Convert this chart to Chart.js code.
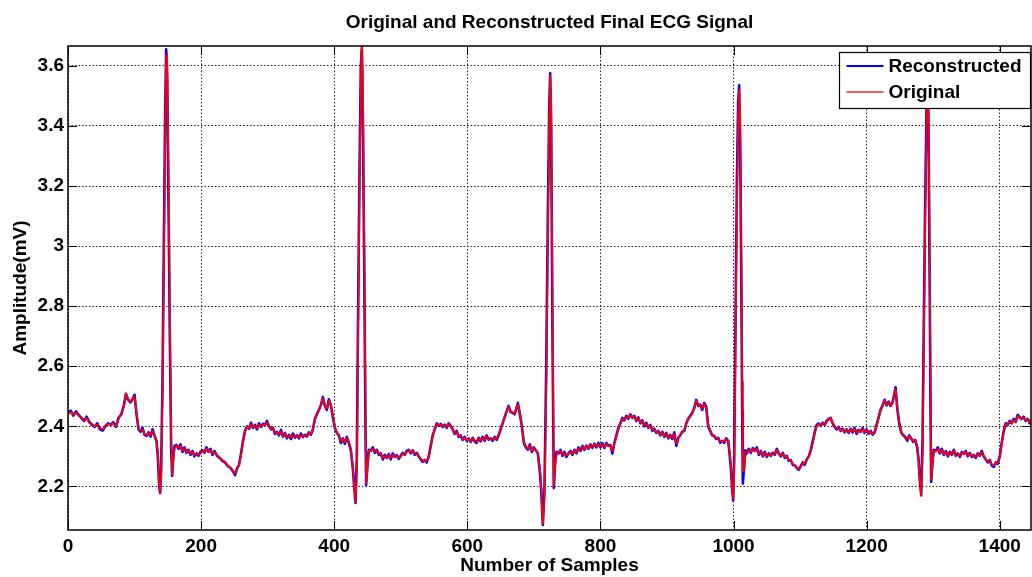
<!DOCTYPE html>
<html>
<head>
<meta charset="utf-8">
<script src="https://cdn.jsdelivr.net/npm/chart.js@4"></script>
<style>
  html, body { margin: 0; padding: 0; background: #fff; }
</style>
</head>
<body>
<canvas id="chart" width="1032" height="577"></canvas>
<script>
// sample index of each stored point (denser around the QRS spikes)
const samples = [
  0, 4, 8, 12, 16, 20, 24, 28, 32, 36,
  40, 44, 48, 52, 56, 60, 64, 68, 72, 76,
  80, 84, 87, 90, 94, 97, 100, 103, 106, 109,
  112, 115, 118, 121, 124, 127, 130, 133, 135, 137,
  138.5, 140, 142, 144, 146, 147.5, 149, 151, 153, 155,
  156.5, 158, 160, 163, 166, 169, 172, 175, 178, 181,
  184, 187, 190, 193, 196, 199, 202, 205, 208, 211,
  214, 217, 220, 224, 228, 232, 236, 240, 244, 248,
  251, 254, 257, 260, 263, 266, 269, 272, 275, 278,
  281, 284, 287, 290, 293, 296, 299, 302, 305, 308,
  311, 314, 317, 320, 323, 326, 329, 332, 335, 338,
  341, 344, 347, 350, 353, 356, 359, 362, 365, 368,
  371, 374, 377, 380, 383, 386, 389, 392, 395, 398,
  401, 404, 407, 410, 413, 416, 419, 422, 425, 428,
  430, 432, 434, 436, 438, 440, 441.5, 443, 445, 447,
  448, 450, 452, 455, 458, 461, 464, 467, 470, 473,
  476, 479, 482, 485, 488, 491, 494, 497, 500, 503,
  506, 509, 512, 515, 518, 521, 524, 527, 530, 533,
  536, 539, 542, 545, 548, 551, 554, 557, 560, 563,
  566, 569, 572, 575, 578, 581, 584, 587, 590, 593,
  596, 599, 602, 605, 608, 611, 614, 617, 620, 623,
  626, 629, 632, 635, 638, 641, 644, 647, 650, 653,
  656, 659, 662, 665, 668, 671, 674, 676, 679, 682,
  685, 688, 691, 694, 697, 700, 703, 706, 709, 711,
  713.5, 716, 718.5, 721, 723, 724.5, 726, 728, 730, 732,
  734, 737, 740, 743, 746, 749, 752, 755, 758, 761,
  764, 767, 770, 773, 776, 779, 782, 785, 788, 791,
  794, 797, 800, 803, 806, 809, 812, 815, 818, 821,
  824, 827, 830, 833, 836, 839, 842, 845, 848, 851,
  854, 857, 860, 863, 866, 869, 872, 875, 878, 881,
  884, 887, 890, 893, 896, 899, 902, 905, 908, 911,
  914, 917, 920, 923, 926, 929, 932, 935, 938, 941,
  944, 947, 950, 953, 956, 959, 962, 965, 968, 971,
  974, 977, 980, 983, 986, 989, 992, 994, 996, 998,
  999.5, 1001, 1003, 1005, 1007, 1008.5, 1010, 1012, 1013, 1014,
  1016, 1018, 1020, 1023, 1026, 1029, 1032, 1035, 1038, 1041,
  1044, 1047, 1050, 1053, 1056, 1059, 1062, 1065, 1068, 1071,
  1074, 1077, 1080, 1083, 1086, 1089, 1092, 1095, 1098, 1101,
  1104, 1107, 1110, 1113, 1116, 1119, 1122, 1125, 1128, 1131,
  1134, 1137, 1140, 1143, 1146, 1149, 1152, 1155, 1158, 1161,
  1164, 1167, 1170, 1173, 1176, 1179, 1182, 1185, 1188, 1191,
  1194, 1197, 1200, 1203, 1206, 1209, 1212, 1215, 1218, 1221,
  1224, 1227, 1230, 1233, 1236, 1239, 1242, 1243.5, 1246, 1249,
  1252, 1255, 1258, 1261, 1264, 1267, 1270, 1273, 1276, 1278,
  1280, 1282, 1284, 1286, 1288, 1290, 1291.5, 1293, 1295, 1296,
  1297, 1299, 1301, 1304, 1307, 1310, 1313, 1316, 1319, 1322,
  1325, 1328, 1331, 1334, 1337, 1340, 1343, 1346, 1349, 1352,
  1355, 1358, 1361, 1364, 1367, 1370, 1373, 1376, 1379, 1382,
  1385, 1388, 1391, 1394, 1397, 1400, 1403, 1406, 1409, 1412,
  1415, 1418, 1421, 1424, 1427, 1430, 1433, 1436, 1439, 1442,
  1445, 1447
];

// reconstructed signal, mV
const reconstructed = [
  2.445, 2.452, 2.436, 2.45, 2.438, 2.428, 2.418, 2.432, 2.415, 2.405,
  2.398, 2.41, 2.39, 2.386, 2.4, 2.41, 2.405, 2.414, 2.398, 2.428,
  2.44, 2.47, 2.508, 2.49, 2.48, 2.49, 2.505, 2.44, 2.39, 2.382,
  2.395, 2.372, 2.368, 2.38, 2.366, 2.39, 2.37, 2.35, 2.3, 2.2,
  2.178, 2.26, 2.55, 3.0, 3.45, 3.655, 3.56, 3.15, 2.7, 2.33,
  2.236, 2.29, 2.335, 2.338, 2.325, 2.34, 2.315, 2.33, 2.312, 2.322,
  2.305, 2.318, 2.3, 2.31, 2.302, 2.315, 2.32, 2.312, 2.33, 2.315,
  2.325, 2.305, 2.318, 2.302, 2.295, 2.285, 2.28, 2.268, 2.262, 2.25,
  2.238, 2.26, 2.272, 2.31, 2.352, 2.385, 2.4, 2.392, 2.412, 2.395,
  2.405, 2.39, 2.41, 2.398, 2.408, 2.405, 2.418, 2.4, 2.39, 2.395,
  2.375, 2.382, 2.37, 2.388, 2.366, 2.378, 2.36, 2.372, 2.358, 2.376,
  2.362, 2.37, 2.36, 2.376, 2.364, 2.372, 2.366, 2.38, 2.372, 2.39,
  2.425, 2.44, 2.455, 2.47, 2.498, 2.468, 2.455, 2.49, 2.47, 2.43,
  2.395, 2.378, 2.37, 2.345, 2.36, 2.342, 2.365, 2.345, 2.32, 2.26,
  2.2, 2.145, 2.3, 2.8, 3.25, 3.6, 3.655, 3.45, 2.95, 2.4,
  2.205, 2.27, 2.322, 2.318, 2.33, 2.312, 2.322, 2.305, 2.31, 2.29,
  2.305, 2.295, 2.308, 2.29, 2.31, 2.298, 2.304, 2.292, 2.302, 2.312,
  2.305, 2.318, 2.322, 2.31, 2.32, 2.305, 2.312, 2.3, 2.29, 2.282,
  2.288, 2.28, 2.3, 2.335, 2.37, 2.39, 2.41, 2.402, 2.408, 2.398,
  2.406, 2.395, 2.41, 2.402, 2.39, 2.375, 2.385, 2.365, 2.37, 2.355,
  2.365, 2.352, 2.36, 2.348, 2.362, 2.35, 2.345, 2.362, 2.35, 2.365,
  2.352, 2.37, 2.356, 2.36, 2.352, 2.365, 2.355, 2.37, 2.39, 2.41,
  2.43, 2.45, 2.468, 2.448, 2.445, 2.44, 2.462, 2.478, 2.44, 2.4,
  2.345, 2.33, 2.322, 2.34, 2.315, 2.33, 2.32, 2.31, 2.25, 2.19,
  2.072, 2.2, 2.58, 3.1, 3.45, 3.575, 3.4, 2.7, 2.195, 2.28,
  2.315, 2.31, 2.322, 2.302, 2.315, 2.298, 2.31, 2.318, 2.305, 2.322,
  2.31, 2.33, 2.318, 2.335, 2.322, 2.336, 2.325, 2.34, 2.328, 2.342,
  2.33, 2.345, 2.33, 2.344, 2.328, 2.345, 2.335, 2.338, 2.31, 2.345,
  2.37, 2.395, 2.41, 2.428, 2.42, 2.435, 2.425, 2.44, 2.428, 2.435,
  2.418, 2.43, 2.41, 2.42, 2.4, 2.412, 2.395, 2.405, 2.385, 2.392,
  2.378, 2.385, 2.37, 2.382, 2.365, 2.378, 2.36, 2.372, 2.358, 2.38,
  2.335, 2.362, 2.37, 2.382, 2.385, 2.41, 2.425, 2.435, 2.445, 2.46,
  2.488, 2.468, 2.472, 2.455, 2.478, 2.465, 2.4, 2.385, 2.37, 2.368,
  2.358, 2.362, 2.345, 2.352, 2.345, 2.36, 2.352, 2.31, 2.26, 2.19,
  2.154, 2.3, 2.75, 3.2, 3.48, 3.535, 3.35, 2.8, 2.45, 2.21,
  2.265, 2.32, 2.31, 2.325, 2.312, 2.328, 2.318, 2.33, 2.305, 2.318,
  2.3, 2.315, 2.298, 2.31, 2.302, 2.312, 2.305, 2.325, 2.31, 2.3,
  2.312, 2.295, 2.302, 2.285, 2.288, 2.272, 2.27, 2.262, 2.255, 2.268,
  2.28, 2.272, 2.29, 2.3, 2.32, 2.35, 2.38, 2.405, 2.41, 2.402,
  2.412, 2.405, 2.418, 2.425, 2.428, 2.41, 2.398, 2.39, 2.398, 2.385,
  2.392, 2.38, 2.39, 2.378, 2.392, 2.38, 2.395, 2.375, 2.388, 2.382,
  2.395, 2.378, 2.39, 2.375, 2.385, 2.372, 2.38, 2.405, 2.43, 2.455,
  2.47, 2.488, 2.47, 2.482, 2.468, 2.48, 2.512, 2.53, 2.46, 2.41,
  2.38, 2.37, 2.365, 2.352, 2.37, 2.36, 2.348, 2.355, 2.33, 2.29,
  2.22, 2.172, 2.35, 2.75, 3.15, 3.45, 3.55, 3.4, 2.8, 2.45,
  2.215, 2.28, 2.322, 2.318, 2.33, 2.31, 2.325, 2.305, 2.318, 2.3,
  2.315, 2.305, 2.322, 2.302, 2.31, 2.298, 2.315, 2.308, 2.318, 2.3,
  2.312, 2.298, 2.305, 2.295, 2.31, 2.302, 2.318, 2.3, 2.29, 2.28,
  2.288, 2.27, 2.265, 2.28, 2.275, 2.3, 2.345, 2.385, 2.41, 2.405,
  2.418, 2.41, 2.425, 2.415, 2.438, 2.43, 2.425, 2.432, 2.418, 2.425,
  2.41, 2.42
];

// original signal, mV
const original = [
  2.442, 2.448, 2.438, 2.446, 2.436, 2.43, 2.42, 2.428, 2.412, 2.408,
  2.4, 2.406, 2.394, 2.39, 2.402, 2.408, 2.406, 2.41, 2.4, 2.425,
  2.442, 2.468, 2.51, 2.492, 2.482, 2.488, 2.5, 2.445, 2.392, 2.385,
  2.39, 2.375, 2.37, 2.378, 2.37, 2.385, 2.372, 2.352, 2.31, 2.21,
  2.178, 2.24, 2.5, 2.92, 3.38, 3.63, 3.64, 3.25, 2.78, 2.36,
  2.24, 2.285, 2.33, 2.335, 2.328, 2.336, 2.318, 2.328, 2.315, 2.32,
  2.308, 2.315, 2.304, 2.31, 2.305, 2.312, 2.318, 2.314, 2.326, 2.316,
  2.322, 2.308, 2.315, 2.305, 2.296, 2.288, 2.28, 2.27, 2.262, 2.252,
  2.242, 2.258, 2.272, 2.305, 2.348, 2.382, 2.398, 2.394, 2.408, 2.398,
  2.402, 2.394, 2.406, 2.4, 2.405, 2.404, 2.414, 2.402, 2.392, 2.393,
  2.378, 2.38, 2.372, 2.384, 2.368, 2.376, 2.364, 2.37, 2.362, 2.372,
  2.364, 2.368, 2.362, 2.372, 2.366, 2.37, 2.368, 2.378, 2.374, 2.392,
  2.422, 2.44, 2.452, 2.472, 2.495, 2.47, 2.458, 2.486, 2.472, 2.435,
  2.398, 2.38, 2.372, 2.35, 2.358, 2.346, 2.362, 2.348, 2.325, 2.265,
  2.205, 2.148, 2.25, 2.72, 3.18, 3.55, 3.70, 3.55, 3.05, 2.48,
  2.21, 2.265, 2.318, 2.318, 2.326, 2.315, 2.32, 2.308, 2.308, 2.294,
  2.302, 2.298, 2.305, 2.294, 2.306, 2.3, 2.302, 2.295, 2.3, 2.31,
  2.306, 2.315, 2.32, 2.312, 2.318, 2.308, 2.31, 2.302, 2.292, 2.285,
  2.288, 2.284, 2.298, 2.33, 2.368, 2.392, 2.408, 2.404, 2.406, 2.4,
  2.404, 2.398, 2.408, 2.4, 2.392, 2.378, 2.382, 2.368, 2.368, 2.358,
  2.362, 2.355, 2.358, 2.35, 2.36, 2.352, 2.348, 2.36, 2.352, 2.362,
  2.355, 2.368, 2.358, 2.358, 2.355, 2.362, 2.358, 2.368, 2.392, 2.408,
  2.428, 2.448, 2.465, 2.45, 2.446, 2.442, 2.46, 2.475, 2.445, 2.402,
  2.35, 2.332, 2.325, 2.336, 2.318, 2.328, 2.32, 2.31, 2.26, 2.2,
  2.075, 2.16, 2.5, 3.02, 3.4, 3.57, 3.48, 2.8, 2.2, 2.27,
  2.312, 2.312, 2.32, 2.305, 2.312, 2.302, 2.31, 2.315, 2.308, 2.32,
  2.312, 2.326, 2.32, 2.332, 2.324, 2.334, 2.326, 2.338, 2.33, 2.34,
  2.332, 2.342, 2.332, 2.34, 2.33, 2.342, 2.336, 2.336, 2.318, 2.342,
  2.368, 2.39, 2.41, 2.425, 2.422, 2.432, 2.428, 2.438, 2.43, 2.432,
  2.42, 2.428, 2.412, 2.418, 2.402, 2.41, 2.398, 2.402, 2.388, 2.39,
  2.38, 2.384, 2.372, 2.38, 2.368, 2.376, 2.362, 2.37, 2.362, 2.376,
  2.342, 2.36, 2.372, 2.38, 2.388, 2.408, 2.425, 2.432, 2.445, 2.462,
  2.485, 2.47, 2.47, 2.458, 2.475, 2.462, 2.405, 2.385, 2.372, 2.366,
  2.36, 2.36, 2.348, 2.35, 2.348, 2.358, 2.35, 2.315, 2.27, 2.2,
  2.158, 2.24, 2.66, 3.1, 3.42, 3.52, 3.42, 2.9, 2.55, 2.25,
  2.255, 2.315, 2.312, 2.322, 2.315, 2.325, 2.318, 2.326, 2.308, 2.315,
  2.302, 2.312, 2.3, 2.308, 2.304, 2.31, 2.306, 2.322, 2.31, 2.302,
  2.31, 2.298, 2.3, 2.288, 2.286, 2.275, 2.27, 2.264, 2.258, 2.265,
  2.278, 2.275, 2.288, 2.3, 2.318, 2.345, 2.378, 2.402, 2.408, 2.404,
  2.41, 2.406, 2.415, 2.422, 2.428, 2.412, 2.4, 2.392, 2.396, 2.386,
  2.39, 2.382, 2.388, 2.38, 2.39, 2.382, 2.392, 2.378, 2.386, 2.382,
  2.392, 2.38, 2.388, 2.378, 2.384, 2.374, 2.382, 2.402, 2.428, 2.452,
  2.468, 2.485, 2.472, 2.48, 2.47, 2.478, 2.508, 2.525, 2.465, 2.415,
  2.382, 2.372, 2.366, 2.356, 2.368, 2.36, 2.35, 2.354, 2.332, 2.295,
  2.225, 2.168, 2.3, 2.68, 3.08, 3.4, 3.53, 3.45, 2.9, 2.55,
  2.222, 2.275, 2.32, 2.316, 2.326, 2.312, 2.322, 2.308, 2.316, 2.302,
  2.312, 2.306, 2.32, 2.305, 2.31, 2.3, 2.312, 2.308, 2.315, 2.302,
  2.31, 2.3, 2.304, 2.298, 2.308, 2.304, 2.315, 2.302, 2.292, 2.282,
  2.286, 2.274, 2.27, 2.278, 2.278, 2.298, 2.34, 2.38, 2.408, 2.405,
  2.415, 2.41, 2.422, 2.416, 2.434, 2.43, 2.426, 2.43, 2.42, 2.424,
  2.412, 2.418
];

const xTicks = [0, 200, 400, 600, 800, 1000, 1200, 1400];
const yTicks = [2.2, 2.4, 2.6, 2.8, 3, 3.2, 3.4, 3.6];

const FONT = 'Liberation Sans, Arial, Helvetica, sans-serif';
Chart.defaults.font.family = FONT;
Chart.defaults.color = '#000';

const toPoints = vals => samples.map((s, i) => ({ x: s, y: vals[i] }));

// box, inward tick marks and the legend, drawn over the plot
const axesBox = {
  id: 'axesBox',
  afterDraw(chart) {
    const { ctx, chartArea: a, scales: { x, y } } = chart;
    ctx.save();
    ctx.strokeStyle = '#000';
    ctx.lineWidth = 1;
    ctx.beginPath();
    x.ticks.forEach(t => {
      const px = Math.round(x.getPixelForValue(t.value)) + 0.5;
      ctx.moveTo(px, a.bottom); ctx.lineTo(px, a.bottom - 9);
      ctx.moveTo(px, a.top); ctx.lineTo(px, a.top + 9);
    });
    y.ticks.forEach(t => {
      const py = Math.round(y.getPixelForValue(t.value)) + 0.5;
      ctx.moveTo(a.left, py); ctx.lineTo(a.left + 9, py);
      ctx.moveTo(a.right, py); ctx.lineTo(a.right - 9, py);
    });
    ctx.stroke();
    ctx.lineWidth = 1.5;
    ctx.strokeRect(a.left, a.top, a.right - a.left, a.bottom - a.top);

    // legend
    const lx = 839.5, ly = 52.5, lw = 191, lh = 56;
    ctx.fillStyle = '#fff';
    ctx.fillRect(lx, ly, lw, lh);
    ctx.lineWidth = 1.2;
    ctx.strokeRect(lx, ly, lw, lh);
    ctx.font = 'bold 19px ' + FONT;
    ctx.textBaseline = 'middle';
    ctx.textAlign = 'left';
    const rows = [chart.data.datasets[0], chart.data.datasets[1]];
    rows.forEach((ds, i) => {
      const ry = ly + 13.5 + i * 26;
      ctx.strokeStyle = ds.legendColor;
      ctx.lineWidth = 2;
      ctx.beginPath();
      ctx.moveTo(lx + 7, ry);
      ctx.lineTo(lx + 44, ry);
      ctx.stroke();
      ctx.fillStyle = '#000';
      ctx.fillText(ds.label, lx + 49, ry + 1);
    });
    ctx.restore();
  }
};

new Chart(document.getElementById('chart'), {
  type: 'line',
  data: {
    datasets: [{
      label: 'Reconstructed',
      data: toPoints(reconstructed),
      borderColor: '#0000ff',
      legendColor: '#0000ff',
      borderWidth: 2.6,
      order: 2
    }, {
      label: 'Original',
      data: toPoints(original),
      borderColor: '#ff0000',
      legendColor: '#ff5a5a',
      borderWidth: 1.8,
      order: 1
    }]
  },
  options: {
    responsive: false,
    animation: false,
    layout: { padding: { right: 1 } },
    elements: {
      point: { radius: 0 },
      line: { tension: 0, borderJoinStyle: 'round', borderCapStyle: 'round' }
    },
    plugins: {
      legend: { display: false },
      tooltip: { enabled: false },
      title: {
        display: true,
        text: 'Original and Reconstructed Final ECG Signal',
        fullSize: false,
        font: { size: 19, weight: 'bold' },
        padding: { top: 11.6, bottom: 11.6 }
      }
    },
    scales: {
      x: {
        type: 'linear',
        min: 0,
        max: 1447,
        afterBuildTicks: s => { s.ticks = xTicks.map(v => ({ value: v })); },
        afterFit: s => { s.height = 47; },
        ticks: {
          font: { size: 19, weight: 'bold' },
          padding: 5,
          maxRotation: 0,
          autoSkip: false,
          callback: v => String(v)
        },
        grid: { color: '#222', lineWidth: 1, drawTicks: false },
        border: { display: false, dash: [1.5, 2] },
        title: {
          display: true,
          text: 'Number of Samples',
          font: { size: 19, weight: 'bold' },
          padding: { top: 0, bottom: 0 }
        }
      },
      y: {
        min: 2.055,
        max: 3.666,
        afterBuildTicks: s => { s.ticks = yTicks.map(v => ({ value: v })); },
        afterFit: s => { s.width = 68; },
        ticks: {
          font: { size: 19, weight: 'bold' },
          padding: 4,
          callback: v => String(v)
        },
        grid: { color: '#222', lineWidth: 1, drawTicks: false },
        border: { display: false, dash: [1.5, 2] },
        title: {
          display: true,
          text: 'Amplitude(mV)',
          font: { size: 19, weight: 'bold' },
          padding: { top: 9, bottom: 0 }
        }
      }
    }
  },
  plugins: [axesBox]
});
</script>
</body>
</html>
